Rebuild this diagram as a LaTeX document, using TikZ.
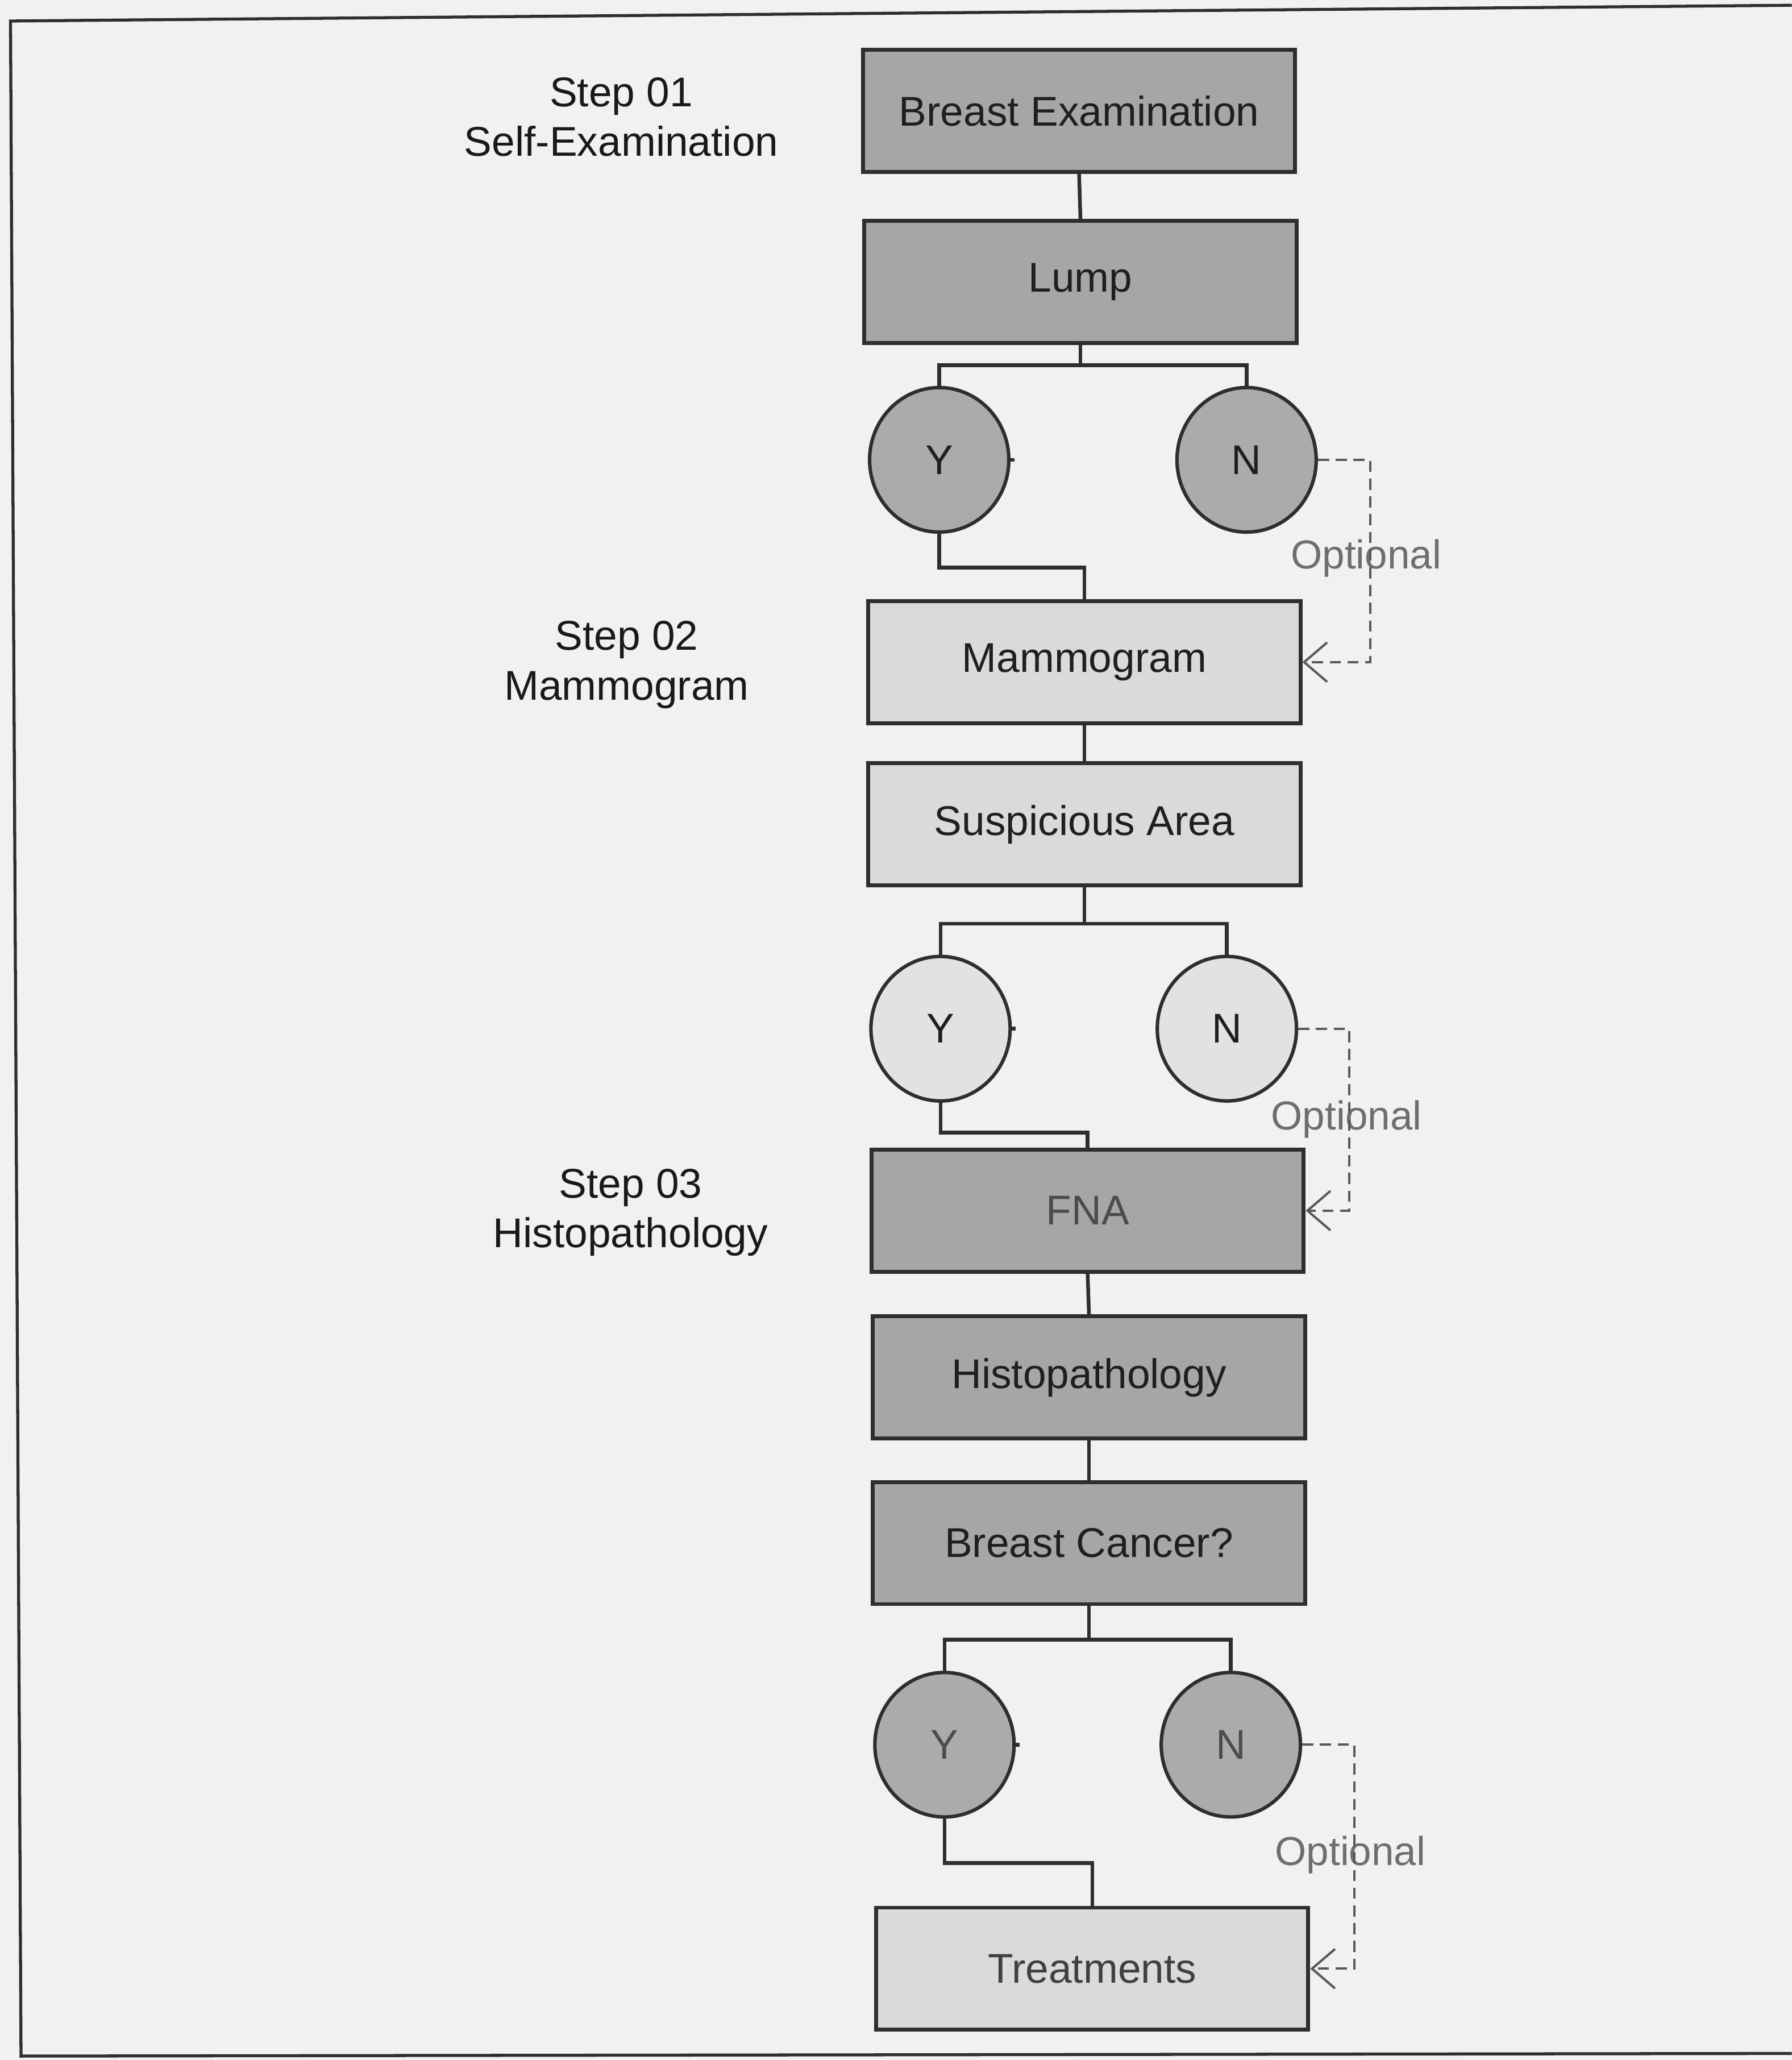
\documentclass[tikz,border=0pt]{standalone}
\usepackage{fontspec}
\setmainfont{Liberation Sans}
\usetikzlibrary{arrows.meta,shapes.geometric}
\definecolor{bgc}{HTML}{F1F1F1}
\definecolor{darkbox}{HTML}{A6A6A6}
\definecolor{lightbox}{HTML}{DADADA}
\definecolor{darkcirc}{HTML}{ABABAB}
\definecolor{lightcirc}{HTML}{E2E2E2}
\definecolor{edge}{HTML}{2E2E2E}
\definecolor{opt}{HTML}{6E6E6E}
\tikzset{
  txt/.style={font=\fontsize{18}{21.5}\selectfont, text=black!88},
  box/.style={txt, draw=edge, line width=1.7pt, rectangle, minimum width=6.58cm, minimum height=1.86cm, inner sep=0pt},
  dbox/.style={box, fill=darkbox},
  lbox/.style={box, fill=lightbox},
  yn/.style={txt, ellipse, draw=edge, line width=1.5pt, minimum width=2.12cm, minimum height=2.2cm, inner sep=0pt},
  dyn/.style={yn, fill=darkcirc},
  lyn/.style={yn, fill=lightcirc},
  conn/.style={draw=edge, line width=1.6pt},
  optline/.style={draw=black!65, line width=1pt, dash pattern=on 0.17cm off 0.1cm, -{Straight Barb[length=3.5mm,width=6mm,line width=1pt]}},
  optlbl/.style={font=\fontsize{17.5}{20}\selectfont, text=opt},
  steplbl/.style={txt, align=center, text=black!90}
}
\begin{document}
\begin{tikzpicture}[x=0.02cm, y=-0.02cm]
\useasboundingbox (0,0) rectangle (1364,1568);
\fill[bgc] (0,0) rectangle (1364,1568);
% frame
\draw[edge, line width=1.3pt] (1364,4) -- (8,16) -- (16,1565) -- (1364,1563);

% step labels
\node[steplbl] (s1) at (473,89) {Step 01\\Self-Examination};
\node[steplbl] (s2) at (477,506) {Step 02\\Mammogram};
\node[steplbl] (s3) at (480,923) {Step 03\\Histopathology};

% boxes
\node[dbox] (be) at (821.5,84.5) {Breast Examination};
\node[dbox] (lump) at (822.5,214.5) {Lump};
\node[dyn] (y1) at (715,350) {Y};
\node[dyn] (n1) at (949,350) {N};
\node[lbox] (mam) at (825.5,504) {Mammogram};
\node[lbox] (sus) at (825.5,627.5) {Suspicious Area};
\node[lyn] (y2) at (716,783) {Y};
\node[lyn] (n2) at (934,783) {N};
\node[dbox, text=black!70] (fna) at (828,921.5) {FNA};
\node[dbox] (histo) at (829,1048.5) {Histopathology};
\node[dbox] (bc) at (829,1174.5) {Breast Cancer?};
\node[dyn, text=black!70] (y3) at (719,1328) {Y};
\node[dyn, text=black!70] (n3) at (937,1328) {N};
\node[lbox, text=black!75] (treat) at (831.5,1498.5) {Treatments};

% optional labels
\node[optlbl] (o1l) at (1040,425) {Optional};
\node[optlbl] (o2l) at (1025,852) {Optional};
\node[optlbl] (o3l) at (1028,1412) {Optional};

% helper coordinates
\coordinate (b1) at (822.5,278);
\coordinate (m1) at (825.5,432);
\coordinate (b2) at (825.5,703);
\coordinate (m2) at (828,862);
\coordinate (b3) at (829,1248);
\coordinate (m3) at (831.5,1418);
\coordinate (d1) at (1043,350);
\coordinate (d2) at (1027,783);
\coordinate (d3) at (1031,1328);

% connectors
\draw[conn] (be.south) -- (lump.north);
\draw[conn] (lump.south) -- (b1);
\draw[conn] (y1.north) |- (b1) -| (n1.north);
\draw[conn] (y1.south) |- (m1) -- (mam.north);
\draw[conn] (mam.south) -- (sus.north);
\draw[conn] (sus.south) -- (b2);
\draw[conn] (y2.north) |- (b2) -| (n2.north);
\draw[conn] (y2.south) |- (m2) -- (fna.north);
\draw[conn] (fna.south) -- (histo.north);
\draw[conn] (histo.south) -- (bc.north);
\draw[conn] (bc.south) -- (b3);
\draw[conn] (y3.north) |- (b3) -| (n3.north);
\draw[conn] (y3.south) |- (m3) -- (treat.north);

% small stubs on Y circles
\draw[conn] (y1.east) -- ++(3,0);
\draw[conn] (y2.east) -- ++(3,0);
\draw[conn] (y3.east) -- ++(3,0);

% optional dashed arrows
\draw[optline] (n1.east) -- (d1) |- (mam.east);
\draw[optline] (n2.east) -- (d2) |- (fna.east);
\draw[optline] (n3.east) -- (d3) |- (treat.east);
\end{tikzpicture}
\end{document}
